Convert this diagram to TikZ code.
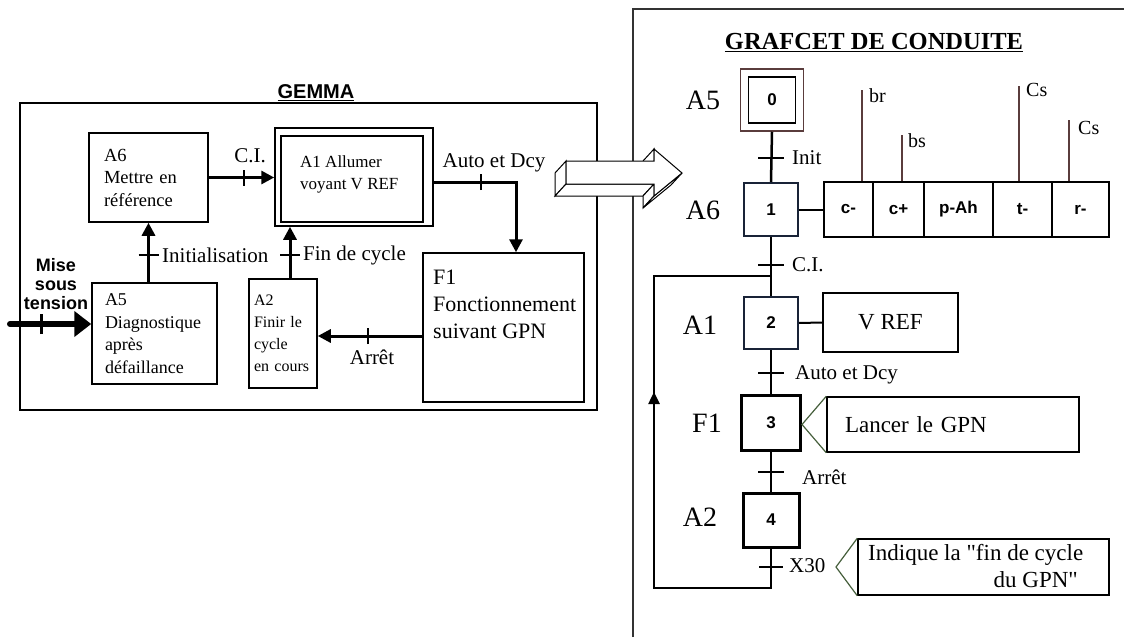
\documentclass[tikz,border=0pt]{standalone}
\usepackage{fontspec}
\setmainfont{Liberation Serif}[Ligatures=TeXOff]
\newfontfamily\sansf{Liberation Sans}
\usetikzlibrary{arrows.meta,calc}
\newcommand\fsz[2]{\fontsize{#1}{#2}\selectfont}
\definecolor{brn}{RGB}{90,60,60}
\definecolor{chv}{RGB}{70,95,60}
\definecolor{stp}{RGB}{25,35,55}
\begin{document}
\begin{tikzpicture}[x=1pt,y=-1pt,
  box/.style={draw, line width=1.5pt, inner sep=0pt, fill=white},
  conn/.style={line width=3pt},
  arr/.style={conn, -{Triangle[length=13pt,width=13pt]}},
  tk/.style={line width=2pt},
  lbl/.style={inner sep=0pt, font=\fsz{21}{24}},
  link/.style={line width=2.5pt},
  rtk/.style={line width=2pt},
  rl/.style={inner sep=0pt, font=\fsz{21}{24}},
  big/.style={inner sep=0pt, font=\fsz{28}{30}},
  stepbox/.style={draw=stp, line width=2pt, inner sep=0pt, fill=white, font=\sansf\bfseries\fsz{17}{20}},
  cell/.style={draw, line width=2pt, inner sep=0pt, minimum height=55pt, font=\sansf\bfseries\fsz{17}{20}},
  cond/.style={line width=1.2pt, draw=brn},
  cl/.style={inner sep=0pt, anchor=west, font=\fsz{20}{22}},
  chev/.style={line width=1.2pt, draw=chv},
  shape3d/.style={draw, line width=1pt, fill=white, line join=miter}
]
\useasboundingbox (0,0) rectangle (1124,637);

% ================= GEMMA =================
\node[box, line width=2pt, minimum width=577pt, minimum height=307pt] (gemma) at (308.5,256.5) {};
\node[inner sep=0pt, font=\sansf\bfseries\fsz{20}{24}] (gemt) at (316,93) {\underline{GEMMA}};

\node[box, minimum width=119pt, minimum height=89pt, text width=89pt, inner xsep=15pt, align=left, font=\fsz{18.5}{22.5}] (a6) at (148.5,177.5) {A6\\Mettre en\\référence};
\node[box, minimum width=125pt, minimum height=101pt, text width=99pt, inner xsep=13pt, align=left, font=\fsz{18}{22.5}] (a5) at (154.5,333.5) {A5\\Diagnostique\\après\\défaillance};
\node[box, minimum width=68pt, minimum height=109pt, text width=58pt, inner xsep=5pt, align=left, font=\fsz{16}{22}] (a2) at (283,333.5) {A2\\Finir le\\cycle\\en cours};
\node[box, minimum width=158pt, minimum height=98pt] (a1o) at (354,177) {};
\node[box, minimum width=142pt, minimum height=86pt] (a1i) at (352,179) {};
\node[inner sep=0pt, anchor=west, align=left, font=\fsz{17}{22}] (a1t) at (300,174) {A1 Allumer\\voyant V REF};
\node[box, minimum width=161pt, minimum height=149pt] (f1) at (503.5,327.5) {};
\node[inner sep=0pt, anchor=west, align=left, font=\fsz{22}{27}] (f1t) at (433,304) {F1\\Fonctionnement\\suivant GPN};

% A6 -> A1
\draw[arr] (a6.east) -- coordinate[pos=.54] (tci) (a6.east -| a1o.west);
\draw[tk] ([yshift=-8pt]tci) -- ([yshift=8pt]tci);
\node[lbl] (lci) at (250,156) {C.I.};
% A5 -> A6
\draw[arr] (a5.north -| a6.south) -- coordinate[pos=.46] (tin) (a6.south);
\draw[tk] ([xshift=-10pt]tin) -- ([xshift=10pt]tin);
\node[lbl, anchor=west] (lin) at (162,255) {Initialisation};
% A2 -> A1
\draw[arr] ([xshift=7pt]a2.north) -- coordinate[pos=.45] (tfc) ([xshift=7pt]a2.north |- a1o.south);
\draw[tk] ([xshift=-10pt]tfc) -- ([xshift=10pt]tfc);
\node[lbl, anchor=west] (lfc) at (303,255) {Fin de cycle};
% A1 -> F1
\draw[arr] ([yshift=-5pt]a1o.east) -| coordinate[pos=.29] (tad) ([xshift=12.5pt]f1.north);
\draw[tk] ([yshift=-8pt]tad) -- ([yshift=8pt]tad);
\node[lbl] (lad) at (494,163) {Auto et Dcy};
% F1 -> A2
\draw[arr] ([yshift=-8.5pt]f1.west) -- coordinate[pos=.52] (tar) ([yshift=-8.5pt]f1.west -| a2.east);
\draw[tk] ([yshift=-8pt]tar) -- ([yshift=8pt]tar);
\node[lbl] (lar) at (372,357) {Arrêt};
% Mise sous tension
\coordinate (mst) at (10,324);
\draw[line width=6pt, line cap=round, -{Triangle[length=17pt,width=25pt]}] (mst) -- coordinate[pos=.39] (tms) (mst -| a5.west);
\draw[line width=2.5pt] ([yshift=-10pt]tms) -- ([yshift=10pt]tms);
\node[inner sep=0pt, align=center, font=\sansf\bfseries\fsz{18}{19}] (mstl) at (56,284) {Mise\\sous\\tension};

% ================= GRAFCET panel =================
\coordinate (pbl) at (633,637);
\coordinate (ptl) at (633,9);
\coordinate (ptr) at (1124,9);
\draw[line width=1.5pt, black!80] (pbl) -- (ptl) -- (ptr);
\node[inner sep=0pt, font=\bfseries\fsz{24.5}{28}] (gt) at (874,43) {\underline{GRAFCET DE CONDUITE}};

% 3D arrow
\coordinate (f0) at (566,161); \coordinate (f1p) at (654,161); \coordinate (f2) at (654,149);
\coordinate (f3) at (682,173); \coordinate (f4) at (654,196); \coordinate (f5) at (654,184);
\coordinate (f6) at (566,184);
\coordinate (b0) at (555,173); \coordinate (b1) at (643,173); \coordinate (b2) at (643,161);
\coordinate (b3) at (671,185); \coordinate (b4) at (643,208); \coordinate (b5) at (643,196);
\coordinate (b6) at (555,196);
\draw[shape3d] (f0) -- (f6) -- (b6) -- (b0) -- cycle;
\draw[shape3d] (f6) -- (f5) -- (b5) -- (b6) -- cycle;
\draw[shape3d] (f5) -- (f4) -- (b4) -- (b5) -- cycle;
\draw[shape3d] (f4) -- (f3) -- (b3) -- (b4) -- cycle;
\draw[shape3d] (f1p) -- (f2) -- (b2) -- (b1) -- cycle;
\draw[shape3d] (f0) -- (f1p) -- (f2) -- (f3) -- (f4) -- (f5) -- (f6) -- cycle;

% steps
\node[draw=brn, line width=1.5pt, fill=white, minimum width=63pt, minimum height=62pt, inner sep=0pt] (s0o) at (772,100) {};
\node[stepbox, draw=black, line width=1.5pt, minimum width=47pt, minimum height=46pt] (s0) at (772,100) {0};
\node[stepbox, minimum width=54pt, minimum height=53pt] (s1) at (771,209.5) {1};
\node[stepbox, minimum width=54pt, minimum height=52pt] (s2) at (771,323) {2};
\node[stepbox, draw=black, line width=3pt, minimum width=59pt, minimum height=55pt] (s3) at (771,422.5) {3};
\node[stepbox, draw=black, line width=3pt, minimum width=56pt, minimum height=54pt] (s4) at (771,520) {4};

\node[big] (l5) at (703,100) {A5};
\node[big] (l6) at (703,210) {A6};
\node[big] (l1) at (700,325) {A1};
\node[big] (lf) at (707,423) {F1};
\node[big] (l2) at (700,517) {A2};

% links
\draw[link] (s0o.south) -- coordinate[pos=.52] (r1) (s1.north);
\draw[rtk] ([xshift=-13pt]r1) -- ([xshift=13pt]r1);
\node[rl, anchor=west] (rinit) at (792,158) {Init};
\draw[link] (s1.south) -- coordinate[pos=.475] (r2) (s2.north);
\draw[rtk] ([xshift=-13pt]r2) -- ([xshift=13pt]r2);
\node[rl, anchor=west] (rci) at (792,265) {C.I.};
\draw[link] (s2.south) -- coordinate[pos=.52] (r3) (s3.north);
\draw[rtk] ([xshift=-13pt]r3) -- ([xshift=13pt]r3);
\node[rl, anchor=west] (rad) at (795,375) {Auto et Dcy};
\draw[link] (s3.south) -- coordinate[pos=.51] (r4) (s4.north);
\draw[rtk] ([xshift=-13pt]r4) -- ([xshift=13pt]r4);
\node[rl, anchor=west] (rar) at (802,477) {Arrêt};

% loop
\coordinate (lbr) at (771,588);
\coordinate (lbl) at (654,588);
\coordinate (lmid) at (654,392);
\coordinate (ltl) at (654,276);
\draw[link, line join=miter] (s4.south) -- coordinate[pos=.46] (r5) (lbr) -- (lbl) -- (lmid);
\draw[link, -{Triangle[length=12pt,width=11pt]}] (lbl) -- (lmid);
\draw[link, line join=miter] (lmid) -- (ltl) -- (ltl -| s1.south);
\draw[rtk] ([xshift=-12pt]r5) -- ([xshift=12pt]r5);
\node[rl, anchor=west] (rx) at (789,566) {X30};

% actions of step 1
\node[cell, minimum width=49pt] (c1) at (848.5,209.5) {c-};
\node[cell, minimum width=51pt] (c2) at (898.5,209.5) {c+};
\node[cell, minimum width=69pt] (c3) at (958.5,209.5) {p-Ah};
\node[cell, minimum width=59pt] (c4) at (1022.5,209.5) {t-};
\node[cell, minimum width=57pt] (c5) at (1080.5,209.5) {r-};
\draw[line width=2pt] (s1.east) -- (c1.west);

\coordinate (cbr) at (862,90);
\coordinate (cbs) at (902,135);
\coordinate (ccs) at (1019,86);
\coordinate (ccs2) at (1069,120);
\draw[cond] (cbr) -- (cbr |- c1.north);
\draw[cond] (cbs) -- (cbs |- c2.north);
\draw[cond] (ccs) -- (ccs |- c4.north);
\draw[cond] (ccs2) -- (ccs2 |- c5.north);
\node[cl] (tbr) at (869,96) {br};
\node[cl] (tbs) at (908,141) {bs};
\node[cl] (tcs) at (1026,90) {Cs};
\node[cl] (tcs2) at (1078,128) {Cs};

% action of step 2
\node[box, line width=2pt, minimum width=135pt, minimum height=59pt, font=\fsz{23}{26}] (vref) at (890.5,322.5) {V REF};
\draw[line width=2pt] (s2.east) -- (vref.west);

% action of step 3
\node[box, minimum width=252pt, minimum height=55pt, text width=216pt, inner xsep=18pt, align=left, font=\fsz{23}{26}] (lan) at (953,424.5) {Lancer le GPN};
\coordinate (lanap) at (802,424.5);
\draw[chev] (lan.north west) -- (lanap) -- (lan.south west);

% comment of step 4
\node[box, minimum width=251pt, minimum height=56pt] (com) at (983.5,567) {};
\coordinate (comap) at (836,567);
\draw[chev] (com.north west) -- (comap) -- (com.south west);
\node[inner sep=0pt, anchor=west, font=\fsz{23}{26}] (com1) at (868,555) {Indique la "fin de cycle};
\node[inner sep=0pt, anchor=east, font=\fsz{23}{26}] (com2) at (1078,580) {du GPN"};
\end{tikzpicture}
\end{document}
